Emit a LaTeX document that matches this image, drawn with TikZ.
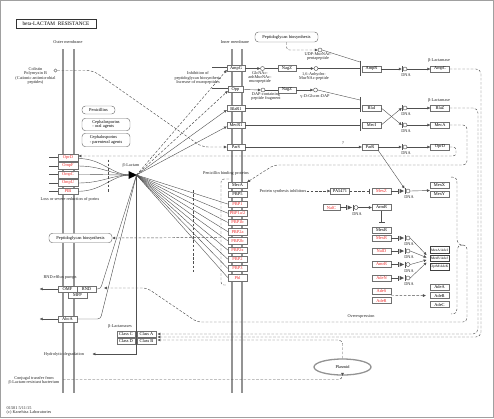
\documentclass[tikz,border=0pt]{standalone}
\usepackage{fontspec}
\setmainfont{Liberation Serif}
\usetikzlibrary{arrows.meta,shapes.geometric,calc}
\definecolor{linec}{HTML}{505050}
\definecolor{boxc}{HTML}{707070}
\definecolor{memc}{HTML}{939393}
\definecolor{kred}{HTML}{EE2B2B}
\definecolor{framec}{HTML}{A0A0A0}
\newcommand{\fbx}{\fontsize{4.4}{4.6}\selectfont}
\newcommand{\flb}{\fontsize{4.3}{4.1}\selectfont}
\newcommand{\ftl}{\fontsize{5.3}{5.5}\selectfont}
\newcommand{\fsm}{\fontsize{3.5}{4}\selectfont}
\tikzset{
 bx/.style={draw=boxc, fill=white, line width=0.45pt, minimum width=19pt, minimum height=6.4pt, inner sep=0pt, font=\fbx, text=black},
 rbx/.style={bx, text=kred},
 rr/.style={draw=boxc, fill=white, line width=0.45pt, rounded corners=3.5pt, inner sep=1pt, font=\fbx},
 lb/.style={inner sep=0pt, font=\flb, align=center, text=black!85},
 ln/.style={draw=linec, line width=0.4pt},
 dsh/.style={draw=linec, line width=0.45pt, dash pattern=on 2.6pt off 1.6pt},
 arr/.style={-{Triangle[length=2.8pt,width=2.6pt]}},
 cmp/.style={circle, draw=linec, fill=white, line width=0.45pt, minimum size=4pt, inner sep=0pt},
 mem/.style={draw=memc, line width=1.3pt},
 pics/gact/.style={code={\draw[linec,line width=0.6pt] (-3,-3) -- (-3,3);}},
 pics/grep/.style={code={\fill[linec] (-8.5,-2.2) -- (-4,0) -- (-8.5,2.2) -- cycle; \draw[linec,line width=0.6pt] (-3,-3) -- (-3,3);}},
}
\begin{document}
\begin{tikzpicture}[x=1pt,y=-1pt]
\useasboundingbox (0,0) rectangle (494,418);
\draw[framec,line width=0.9pt] (0.6,0.6) rectangle (493.4,417.4);
% membranes
\foreach \x in {63,74,232,242} \draw[mem] (\x,49) -- (\x,393);

% ---------- nodes ----------
\node[draw=black!80,line width=0.8pt,minimum width=80pt,minimum height=9pt,inner sep=0pt,font=\ftl] (title) at (56,23.5) {beta-LACTAM\ \ RESISTANCE};
\node[lb] (om) at (68,42) {Outer membrane};
\node[lb] (im) at (235,42) {Inner membrane};
\node[lb] (col) at (35.5,76) {Colistin\\Polymyxin B\\(Cationic antimicrobial\\peptides)};
\node[cmp,minimum size=3.2pt] (cst) at (55.5,70.5) {};

\node[rr,minimum width=33pt,minimum height=8pt] (pen) at (98.5,110) {Penicillins};
\node[rr,minimum width=48pt,minimum height=12.5pt,align=left] (ceph1) at (106,124.5) {Cephalosporins\\- oral agents};
\node[rr,minimum width=48pt,minimum height=13.5pt,align=left] (ceph2) at (106,140) {Cephalosporins\\- parenteral agents};

\node[rbx,minimum width=20pt,minimum height=6.8pt] (oprd) at (68,157.5) {OprD};
\node[rbx,minimum width=20pt,minimum height=6.8pt] (ompf) at (68,166) {OmpF};
\node[rbx,minimum width=20pt,minimum height=6.8pt] (ompc) at (68,174.5) {OmpC};
\node[rbx,minimum width=20pt,minimum height=6.8pt] (ompu) at (68,183) {OmpU};
\node[rbx,minimum width=20pt,minimum height=6.8pt] (pib) at (68,191.3) {PIB};
\node[lb] (loss) at (70,199) {Loss or severe reduction of porins};

\node[rr,minimum width=63pt,minimum height=9.5pt] (pgl) at (80.5,238) {Peptidoglycan biosynthesis};
\node[lb] (rndl) at (60,277.5) {RND efflux pumps};
\node[bx] (omf) at (67.5,289) {OMF};
\node[bx] (rnd) at (86.5,289) {RND};
\node[bx] (mfp) at (77.5,295.3) {MFP};
\node[bx] (abca) at (67.5,319) {AbcA};
\node[lb] (hyd) at (64,354) {Hydrolytic degradation};
\node[lb] (blm) at (120,326.5) {β-Lactamases};
\node[bx,minimum width=18.5pt] (cc) at (126,334) {Class C};
\node[bx,minimum width=18.5pt] (ca) at (146.5,334) {Class A};
\node[bx,minimum width=18.5pt] (cd) at (126,341) {Class D};
\node[bx,minimum width=18.5pt] (cb) at (146.5,341) {Class B};
\node[lb] (conj) at (34,380.5) {Conjugal transfer from\\β-Lactam-resistant bacterium};
\node[lb,align=left,anchor=west] (copy) at (6.5,410.8) {01501 5/11/15\\(c) Kanehisa Laboratories};
\node[ellipse,draw=memc,line width=1.3pt,minimum width=57pt,minimum height=16pt,inner sep=0pt,font=\flb,fill=white] (plas) at (342.5,367) {Plasmid};

% inner membrane
\node[bx,minimum width=18pt] (ampg) at (236,68.5) {AmpG};
\node[bx,minimum width=15pt] (opp) at (235.5,89.5) {Opp};
\node[bx,minimum width=18pt] (blar1) at (236,108.5) {BlaR1};
\node[bx,minimum width=18pt] (mecr1) at (236,125) {MecR1};
\node[bx,minimum width=18pt] (pars) at (236,147) {ParS};
\node[lb] (inh) at (198,78) {Inhibition of\\peptidoglycan biosynthesis\\Increase of muropeptides};

\node[lb] (pbpl) at (226,173) {Penicillin binding proteins};
\node[bx] (meca) at (237.5,185.5) {MecA};
\node[bx] (pbp5) at (237.5,194.5) {PBP5};
\foreach \t [count=\i] in {PBP1,PBP1a/2,PBP1b,PBP2a,PBP2b,PBP2x,PBP2,PBP3,Pbl}
  \node[rbx] (p\i) at (237.5,{204+(\i-1)*9.2}) {\t};

% peptidoglycan recycling
\node[rr,minimum width=63pt,minimum height=10pt] (pgt) at (286.5,37) {Peptidoglycan biosynthesis};
\node[cmp] (udp) at (320,50) {};
\node[lb] (udpl) at (318,56.5) {UDP-MurNAc-\\pentapeptide};
\node[cmp] (glc) at (262.5,68.5) {};
\node[lb] (glcl) at (260,77.5) {GlcNAc-\\anhMurNAc-\\muropeptide};
\node[bx,minimum width=18pt] (nagz1) at (287,68.5) {NagZ};
\node[cmp] (anh) at (316,68.5) {};
\node[lb] (anhl) at (314,76.5) {1,6-Anhydro-\\MurNAc-peptide};
\node[cmp] (dapc) at (263,90) {};
\node[lb] (dapl) at (266,96.5) {DAP-containing\\peptide fragment};
\node[bx,minimum width=18pt] (nagz2) at (287,90) {NagZ};
\node[cmp] (dgl) at (315.5,90) {};
\node[lb] (dgll) at (315,96) {γ-D-Glu-m-DAP};

% right column
\node[bx] (ampr) at (371.5,69) {AmpR};
\node[bx] (blai) at (371.5,108) {BlaI};
\node[bx] (meci) at (371.5,125) {MecI};
\node[bx,minimum width=16pt] (parr) at (370,147) {ParR};
\node[bx] (ampc) at (440,69) {AmpC};
\node[bx] (blaz) at (440,108) {BlaZ};
\node[bx] (meca2) at (440,125) {MecA};
\node[bx] (oprd2) at (440,147) {OprD};
\node[lb] at (439,60.5) {β-Lactamase};
\node[lb] at (439,100) {β-Lactamase};
\node[lb] at (343,143) {?};

\node[lb] (psi) at (283,191) {Protein synthesis inhibitors};
\node[bx] (pa) at (340,191) {PA5471};
\node[rbx] (mexz) at (381.5,191) {MexZ};
\node[bx] (mexx) at (439.5,185.5) {MexX};
\node[bx] (mexy) at (439.5,194) {MexY};
\node[rbx,minimum width=17pt] (nalc) at (331.5,207.5) {NalC};
\node[bx] (armr) at (381.5,207.5) {ArmR};
\node[bx] (mexr1) at (381.5,230) {MexR};
\node[rbx] (mexr2) at (381.5,238) {MexR};
\node[rbx] (nald) at (381.5,251) {NalD};
\node[rbx] (amrr) at (381.5,264.5) {AmrR};
\node[rbx] (aden) at (381.5,278) {AdeN};
\node[bx,line width=0.8pt,draw=black!75,font=\fsm] (mexa) at (439.5,250) {MexA/AdeI};
\node[bx,line width=0.8pt,draw=black!75,font=\fsm] (mexb) at (439.5,258.5) {MexB/AdeJ};
\node[bx,line width=0.8pt,draw=black!75,font=\fsm] (oprm) at (439.5,267) {OprM/AdeK};
\node[rbx] (ades) at (381.5,291) {AdeS};
\node[rbx] (ader) at (381.5,300.5) {AdeR};
\node[bx] (adea) at (439.5,287) {AdeA};
\node[bx] (adeb) at (439.5,295.5) {AdeB};
\node[bx] (adec) at (439.5,304.5) {AdeC};
\node[lb] (ovl) at (361,317) {Overexpression};

% DNA
\node[cmp] (dna1) at (405,69) {};
\node[cmp] (dna2) at (405,108) {};
\node[cmp] (dna3) at (405,125) {};
\node[cmp] (dna4) at (405,147) {};
\node[cmp] (dna5) at (408,191) {};
\node[cmp] (dna6) at (356,207.5) {};
\node[cmp] (dna7) at (408,238) {};
\node[cmp] (dna8) at (408,251) {};
\node[cmp] (dna9) at (408,264.5) {};
\node[cmp] (dna10) at (408,278) {};
\foreach \d in {dna1,dna2,dna3,dna4,dna5,dna6,dna7,dna8,dna9,dna10}
  \node[lb] at ([xshift=1pt,yshift=-6.5pt]\d.center) {DNA};

% coordinates
\coordinate (bl) at (136.5,175);
\coordinate (blin) at (130,175);
\coordinate (opr) at (78.5,156);
\coordinate (cl1) at (157.5,334);
\coordinate (cl2) at (157.5,337);
\coordinate (cl3) at (157.5,340);
\coordinate (cj) at (63,379.5);
\coordinate (ovr) at (104,288);
\coordinate (hy) at (92.5,354);
\coordinate (pbb) at (221,237.5);
\coordinate (ba1) at (360,62);
\coordinate (ba2) at (360,68.5);
\coordinate (bb1) at (360,100);
\coordinate (bb2) at (360,108);
\coordinate (bc) at (360,125);
\coordinate (mx1) at (426.5,255);
\coordinate (mx2) at (426.5,257.5);
\coordinate (mx3) at (426.5,260);
\coordinate (mx4) at (426.5,262.5);

% ---------- connectors ----------
% colistin
\draw[dsh,arr,rounded corners=6pt] (cst.east) -- (93,70.5) -- (202,147) -- (pars.west);
% porins
\foreach \n in {oprd,ompf,ompc,ompu,pib} \draw[ln] (\n.west) -- ++(-9,0);
\foreach \n in {ompf,ompc,ompu,pib} \draw[ln] (\n.east) .. controls +(24,0) and (112,175) .. (blin);
\draw[ln] ([yshift=-1pt]oprd.east) .. controls +(24,0) and (112,175) .. (blin);
\draw[dsh] (108,159.5) -- (108,192);
\fill[black] (128.5,171) -- (137,175) -- (128.5,179) -- cycle;
\node[lb] (bll) at (131,165) {β-Lactam};

% fan from beta-lactam
\draw[dsh,arr] (bl) -- ([yshift=-1.5pt]ampg.west);
\draw[dsh,arr] (bl) -- ([yshift=-1.5pt]opp.west);
\draw[ln,arr] (bl) -- ([yshift=-1.5pt]blar1.west);
\draw[ln,arr] (bl) -- ([yshift=-1.5pt]mecr1.west);
\draw[ln] ([yshift=1.5pt]ampg.west) -- ++(-15,0);
\draw[ln] ([yshift=1.5pt]opp.west) -- ++(-16,0);
\foreach \i in {1,...,9} \draw[ln] (bl) -- (p\i.west);
\draw[dsh] (193,190) -- (193,273);
\draw[ln,rounded corners=3pt] (bl) -- (100.5,289) -- (rnd.east);
\draw[ln,rounded corners=3pt] (bl) -- (100.5,319) -- (abca.east);
\draw[ln,arr] (bl) -- (136.5,354) -- (hy);
\draw[ln,arr] (omf.west) -- ++(-18,0);
\draw[ln,arr] (abca.west) -- ++(-18,0);

% PBP bracket
\draw[dsh,rounded corners=3pt] (229,179) -- (221,179) -- (221,285) -- (227,285);
\draw[dsh,arr] (pbb) -- (pgl.east);

% peptidoglycan recycling
\draw[dsh,arr,rounded corners=3pt] (pgt.south) |- (udp.west);
\draw[ln,arr] (ampg.east) -- (glc.west);
\draw[ln] (glc.east) -- (nagz1.west);
\draw[ln,arr] (nagz1.east) -- (anh.west);
\draw[ln,arr] (opp.east) -- (dapc.west);
\draw[ln] (dapc.east) -- (nagz2.west);
\draw[ln,arr] (nagz2.east) -- (dgl.west);
\draw[ln] (udp.east) -- (ba1);
\draw[ln] (anh.east) -- (ba2);
\draw[ln] (dgl.east) -- (bb1);
\draw[ln] (blar1.east) -- (blar1.east -| bb2);
\draw[ln] (mecr1.east) -- (mecr1.east -| bc);
\draw[linec,line width=0.7pt] (360,60.5) -- (360,76) (360,97) -- (360,111.5) (360,118.5) -- (360,131);
\draw[ln,arr] (pars.east) -- (parr.west);

% gene expression, top right
\draw[ln,arr] (ampr.east) -- ([xshift=-3.3pt]dna1.center);
\draw[ln,arr] (blai.east) -- ([xshift=-3.3pt]dna3.center);
\draw[ln,arr] (meci.east) -- ([xshift=-3.3pt]dna2.center);
\draw[ln,arr] (parr.east) -- ([xshift=-3.3pt]dna4.center);
\foreach \d in {dna1,dna2,dna3,dna4} \pic at (\d) {gact};
\draw[ln,arr] (dna1.east) -- (ampc.west);
\draw[ln,arr] (dna2.east) -- (blaz.west);
\draw[ln,arr] (dna3.east) -- (meca2.west);
\draw[ln,arr] (dna4.east) -- (oprd2.west);
\draw[ln,arr] (parr.south east) -- ([xshift=-3.5pt,yshift=2.5pt]dna5.center);

% dashed outputs
\draw[dsh,arr,rounded corners=5pt] (ampc.east) -- (481,69) -- (481,337) -- (cl2);
\draw[dsh,arr,rounded corners=5pt] (blaz.east) -- (478,108) -- (478,334) -- (cl1);
\draw[dsh,arr,rounded corners=4pt] (meca2.east) -- (467,125) -- (467,165) -- (274,165) -- (meca.north east);
\draw[dsh,arr,rounded corners=3pt] (oprd2.east) -- (456,147) -- (456,156) -- (opr);

% Mex regulation
\draw[dsh,arr] (psi.east) -- (pa.west);
\draw[dsh,-{Bar[width=5pt]}] (pa.east) -- ([xshift=-2pt]mexz.west);
\draw[ln,-{Bar[width=5pt]}] (mexz.east) -- ([xshift=-9.5pt]dna5.center);
\pic at (dna5) {grep};
\draw[ln,arr] (dna5.east) -- ([yshift=-5pt]mexx.west);
\draw[ln,-{Bar[width=5pt]}] (nalc.east) -- ([xshift=-9.5pt]dna6.center);
\pic at (dna6) {grep};
\draw[ln,arr] (dna6.east) -- (armr.west);
\draw[ln,-{Bar[width=6pt]}] (armr.south) -- ([yshift=4.5pt]mexr1.north);
\foreach \b/\d in {mexr2/dna7,nald/dna8,amrr/dna9,aden/dna10} {
  \draw[ln,-{Bar[width=5pt]}] (\b.east) -- ([xshift=-9.5pt]\d.center);
  \pic at (\d) {grep};
}
\draw[ln,arr] (dna7.east) -- (mx1);
\draw[ln,arr] (dna8.east) -- (mx2);
\draw[ln,arr] (dna9.east) -- (mx3);
\draw[ln,arr] (dna10.east) -- (mx4);
\draw[dsh,arr] ($(ades.south east)!0.5!(ader.north east)$) -- ([xshift=-4pt]adeb.west);

% overexpression brace
\draw[dsh] (451,177) .. controls (456,177) and (457,179) .. (457,183) -- (457,240) .. controls (457,243) and (459,245) .. (463,245);
\draw[dsh] (463,245) .. controls (459,245) and (457,247) .. (457,250) -- (457,309) .. controls (457,312) and (456,314) .. (451,314);
\draw[dsh,arr,rounded corners=4pt] (463,245) -- (467,245) -- (467,322) -- (197,322) -- (147,288) -- (ovr);

% plasmid
\draw[dsh,arr,rounded corners=4pt] (plas.north) -- (342.5,340) -- (cl3);
\draw[dsh,arr,rounded corners=4pt] (cj) -- (342.5,379.5) -- (plas.south);
\end{tikzpicture}
\end{document}
